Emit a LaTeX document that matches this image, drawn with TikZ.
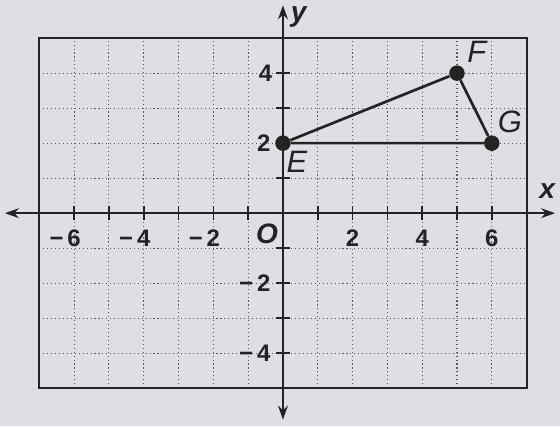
\documentclass[tikz,border=0pt]{standalone}
\usepackage{fontspec}
\setmainfont{Liberation Sans}
\usetikzlibrary{arrows.meta}
\definecolor{paper}{RGB}{222,223,226}
\definecolor{ink}{RGB}{35,35,38}
\begin{document}
\begin{tikzpicture}[x=0.87cm,y=0.875cm,
  ax/.style={ink,line width=1.3pt,{Stealth[length=10pt,width=7pt]}-{Stealth[length=10pt,width=7pt]}},
  gridline/.style={ink!75,line width=0.8pt,dotted},
  pt/.style={circle,fill=ink,inner sep=0pt,minimum size=11pt},
  num/.style={font=\bfseries\fontsize{17}{17}\selectfont,text=ink},
  ptlabel/.style={font=\itshape\fontsize{22}{22}\selectfont,text=ink},
  axlabel/.style={font=\bfseries\itshape\fontsize{20}{20}\selectfont,text=ink},
  seg/.style={ink,line width=1.9pt}]
\fill[paper] (-8.13,-6.09) rectangle (7.96,6.09);
\useasboundingbox (-8.13,-6.09) rectangle (7.96,6.09);
% grid
\foreach \i in {-6,...,6} \draw[gridline] (\i,-5) -- (\i,5);
\foreach \j in {-4,...,4} \draw[gridline] (-7,\j) -- (7,\j);
\draw[ink,line width=1.4pt] (-7,-5) rectangle (7,5);
% axes
\coordinate (xl) at (-7.99,0);
\coordinate (xr) at (7.82,0);
\coordinate (yb) at (0,-5.9);
\coordinate (yt) at (0,5.94);
\draw[ax] (xl) -- (xr);
\draw[ax] (yb) -- (yt);
\foreach \i in {-7,...,7} \draw[ink,line width=1.2pt] (\i,-0.2) -- (\i,0.2);
\foreach \j in {-5,...,5} \draw[ink,line width=1.2pt] (-0.2,\j) -- (0.2,\j);
% labels
\node[num] at (-6,-0.72) {\llap{−\,}6};
\node[num] at (-4,-0.72) {\llap{−\,}4};
\node[num] at (-2,-0.72) {\llap{−\,}2};
\foreach \i in {2,4,6} \node[num] at (\i,-0.72) {\i};
\node[num] at (-0.5,4) {4};
\node[num] at (-0.55,2) {2};
\node[num] at (-0.55,-2) {\llap{−\,}2};
\node[num] at (-0.55,-4) {\llap{−\,}4};
\node[axlabel] at (-0.46,-0.6) {O};
\node[axlabel] at (7.59,0.64) {x};
\node[axlabel] at (0.45,5.6) {y};
% triangle
\node[pt] (E) at (0,2) {};
\node[pt] (F) at (5,4) {};
\node[pt] (G) at (6,2) {};
\draw[seg] (E) -- (F) -- (G) -- (E);
\node[ptlabel] at (5.57,4.62) {F};
\node[ptlabel] at (6.52,2.6) {G};
\node[ptlabel] at (0.4,1.48) {E};
\end{tikzpicture}
\end{document}
